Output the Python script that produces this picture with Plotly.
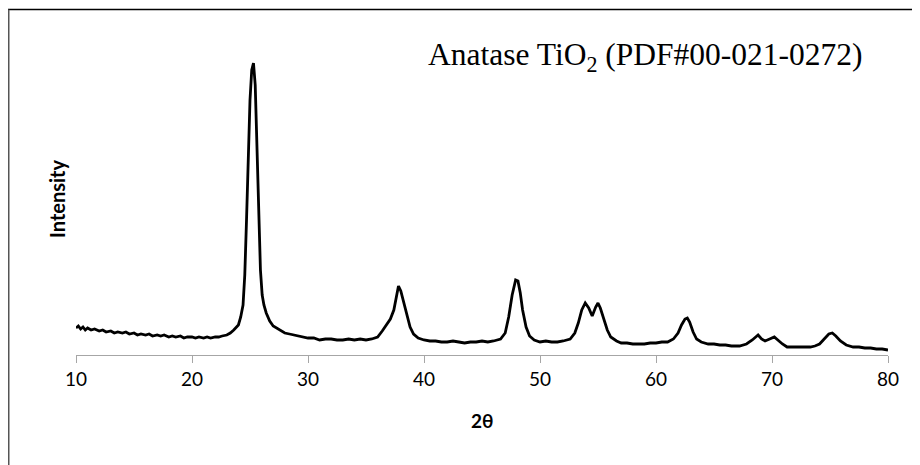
import plotly.graph_objects as go

# 2-theta (degrees) and intensity (arbitrary units)
two_theta = [
    10.0, 10.2, 10.4, 10.6, 10.8, 11.0, 11.3, 11.6, 12.0, 12.3, 12.6, 13.0, 13.3, 13.6, 14.0,
    14.3, 14.6, 15.0, 15.3, 15.6, 16.0, 16.3, 16.6, 17.0, 17.3, 17.6, 18.0, 18.3, 18.6, 19.0,
    19.3, 19.6, 20.0, 20.3, 20.6, 21.0, 21.3, 21.6, 22.0, 22.3, 22.6, 23.0, 23.3, 23.6,
    24.0, 24.2, 24.4, 24.55, 24.7, 24.85, 25.0, 25.15, 25.3, 25.45, 25.6, 25.75, 25.9, 26.05,
    26.2, 26.4, 26.7, 27.0, 27.3, 27.6, 28.0, 28.4, 28.8, 29.2, 29.6, 30.0, 30.5, 31.0, 31.5,
    32.0, 32.5, 33.0, 33.5, 34.0, 34.5, 35.0, 35.5, 36.0, 36.4, 36.8, 37.1, 37.4, 37.6, 37.8,
    38.0, 38.2, 38.5, 38.8, 39.1, 39.5, 40.0, 40.5, 41.0, 41.5, 42.0, 42.5, 43.0, 43.5, 44.0,
    44.5, 45.0, 45.5, 46.0, 46.6, 47.0, 47.3, 47.6, 47.9, 48.1, 48.3, 48.5, 48.8, 49.1, 49.5,
    50.0, 50.5, 51.0, 51.5, 52.0, 52.6, 53.0, 53.3, 53.6, 53.9, 54.2, 54.5, 54.8, 55.0, 55.2,
    55.5, 55.8, 56.1, 56.6, 57.0, 57.5, 58.0, 58.5, 59.0, 59.5, 60.0, 60.5, 61.0, 61.5, 61.9,
    62.2, 62.5, 62.7, 62.9, 63.2, 63.5, 63.9, 64.5, 65.0, 65.5, 66.0, 66.5, 67.2, 67.8, 68.3,
    68.8, 69.1, 69.4, 69.8, 70.2, 70.5, 70.9, 71.3, 71.8, 72.3, 72.8, 73.3, 73.7, 74.1, 74.5,
    74.9, 75.2, 75.5, 75.9, 76.4, 77.0, 77.5, 78.0, 78.5, 79.0, 79.5, 80.0,
]
intensity = [
    27, 29, 26, 28, 25, 27, 25, 26, 24, 25, 23, 24, 22, 23, 22,
    23, 21, 22, 20, 21, 20, 21, 19, 20, 19, 20, 18, 19, 18, 19,
    17, 18, 18, 17, 18, 17, 18, 17, 18, 18, 19, 20, 22, 25,
    30, 38, 50, 80, 135, 200, 255, 285, 292, 270, 200, 130, 85, 60,
    50, 42, 34, 29, 27, 25, 22, 21, 20, 19, 18, 17, 17, 15, 16,
    16, 15, 15, 16, 15, 16, 15, 16, 18, 24, 31, 36, 45, 58, 69,
    64, 55, 40, 28, 21, 17, 15, 14, 14, 13, 13, 14, 13, 12, 13,
    13, 14, 13, 14, 16, 22, 38, 60, 75, 74, 62, 45, 28, 19, 15,
    13, 14, 13, 13, 14, 16, 22, 32, 45, 52, 47, 39, 48, 52, 47,
    35, 25, 18, 14, 12, 12, 11, 11, 11, 12, 12, 13, 13, 16, 22,
    30, 36, 37, 33, 23, 16, 13, 11, 11, 10, 10, 9, 9, 11, 15,
    20, 16, 14, 16, 18, 15, 11, 8, 8, 8, 8, 8, 9, 11, 16,
    21, 22, 19, 14, 10, 8, 8, 7, 7, 6, 6, 5,
]
x_ticks = [10, 20, 30, 40, 50, 60, 70, 80]


def px(page_x):
    return (page_x - 76) / 812


def py(page_y):
    return (355 - page_y) / 300


fig = go.Figure()
fig.add_trace(go.Scatter(
    x=two_theta, y=intensity, mode="lines",
    line=dict(color="black", width=2.8),
    showlegend=False, hoverinfo="skip",
))

fig.update_layout(
    width=912, height=457,
    margin=dict(l=68, r=32, t=47, b=110),
    paper_bgcolor="white", plot_bgcolor="white",
    font=dict(family="Lato, Carlito, sans-serif", color="black"),
    xaxis=dict(
        range=[10, 80], tickvals=x_ticks, ticktext=[str(t) for t in x_ticks],
        showgrid=False, zeroline=False,
        showline=True, linecolor="#a6a6a6", linewidth=1.3,
        ticks="outside", ticklen=7, tickcolor="#a6a6a6", tickwidth=1.3,
        tickfont=dict(size=19, family="Lato, Carlito, sans-serif", color="black"),
        fixedrange=True,
    ),
    yaxis=dict(
        range=[0, 300], showticklabels=False, showgrid=False, zeroline=False,
        showline=False, ticks="", fixedrange=True,
    ),
    annotations=[
        dict(text="Anatase TiO<sub>2</sub> (PDF#00-021-0272)", xref="paper", yref="paper",
             x=px(426), y=py(57), xanchor="left", yanchor="middle",
             showarrow=False, font=dict(family="Liberation Serif, Times New Roman, serif", size=31.5, color="black")),
        dict(text="<b>Intensity</b>", xref="paper", yref="paper",
             x=px(57), y=py(199), xanchor="center", yanchor="middle",
             textangle=-90, showarrow=False, font=dict(size=20, color="black")),
        dict(text="<b>2θ</b>", xref="paper", yref="paper",
             x=px(482), y=py(420), xanchor="center", yanchor="middle",
             showarrow=False, font=dict(size=19, color="black")),
    ],
    shapes=[
        dict(type="line", xref="paper", yref="paper",
             x0=px(8), x1=px(930), y0=py(9.5), y1=py(9.5),
             line=dict(color="black", width=1.6)),
        dict(type="line", xref="paper", yref="paper",
             x0=px(8.5), x1=px(8.5), y0=py(9.5), y1=py(480),
             line=dict(color="#555555", width=2)),
    ],
)

fig.write_html("out.html")
